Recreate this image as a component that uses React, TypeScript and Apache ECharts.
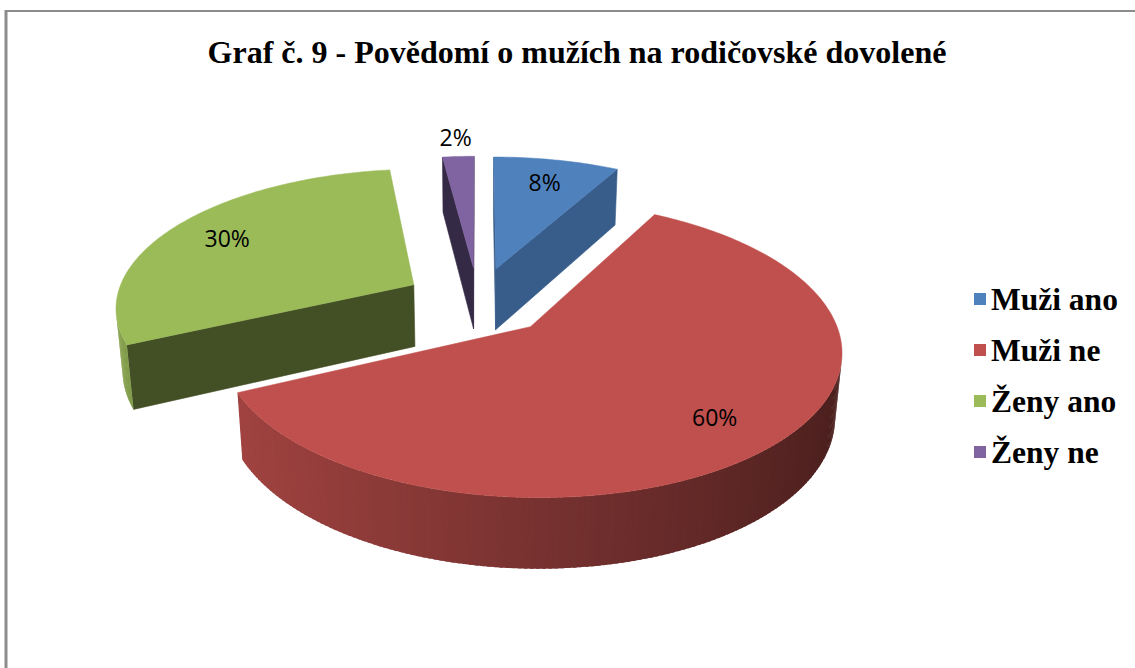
import React, { useEffect, useRef } from 'react';
import * as echarts from 'echarts';

// ---- data ----
const categories = ['Muži ano', 'Muži ne', 'Ženy ano', 'Ženy ne'];
const values = [8, 60, 30, 2];
const labelTexts = ['8%', '60%', '30%', '2%'];
const titleText = 'Graf č. 9 - Povědomí o mužích na rodičovské dovolené';

// ---- styles ----
const topColors = ['#4f81bd', '#c0504d', '#9bbb59', '#8064a2'];
const cutColors = ['#385d8a', '#5a2424', '#434f25', '#352a45'];

// ---- 3D view parameters (layout) ----
const CX = 478;
const CY = 301;
const FOCAL = 1790;
const DIST = 6;
const SIN = 0.46;
const COS = Math.sqrt(1 - SIN * SIN);
const EXPLODE = 0.25;
const HEIGHT = 0.24;

function project(X: number, Yh: number, Z: number): number[] {
  const up = Yh * COS + Z * SIN;
  const dep = DIST + Z * COS - Yh * SIN;
  return [CX + (FOCAL * X) / dep, CY - (FOCAL * up) / dep];
}

function shade(hex: string, f: number): string {
  const n = parseInt(hex.slice(1), 16);
  const r = Math.min(255, Math.round(((n >> 16) & 255) * f));
  const g = Math.min(255, Math.round(((n >> 8) & 255) * f));
  const b = Math.min(255, Math.round((n & 255) * f));
  return `rgb(${r},${g},${b})`;
}

const total = values.reduce((a, b) => a + b, 0);
const starts: number[] = [];
{
  let acc = 0;
  values.forEach((v) => {
    starts.push(acc);
    acc += v;
  });
}

function sliceGeom(i: number, v: number) {
  const a0 = (starts[i] / total) * Math.PI * 2;
  const a1 = a0 + (v / total) * Math.PI * 2;
  const mid = (a0 + a1) / 2;
  const ox = EXPLODE * Math.sin(mid);
  const oz = EXPLODE * Math.cos(mid);
  return { a0, a1, mid, ox, oz };
}

// painter's order: far slices first
const orderRank: number[] = (() => {
  const depths = values.map((v, i) => {
    const g = sliceGeom(i, v);
    return g.oz + 0.5 * Math.cos(g.mid);
  });
  const idx = values.map((_, i) => i).sort((a, b) => depths[b] - depths[a]);
  const rank: number[] = [];
  idx.forEach((k, r) => (rank[k] = r));
  return rank;
})();

function renderItem(params: any, api: any) {
  const i = params.dataIndex;
  const v = api.value(0);
  const { a0, a1, mid, ox, oz } = sliceGeom(i, v);
  const base = orderRank[i] * 10;
  const children: any[] = [];
  const camZ = -DIST * COS;

  const rim = (t: number, yh: number) => project(ox + Math.sin(t), yh, oz + Math.cos(t));
  const vtx = (yh: number) => project(ox, yh, oz);

  // cut faces
  const cutFace = (a: number, nx: number, nz: number) => {
    const vis = nx * -ox + nz * (camZ - oz) > 0;
    if (!vis) return;
    children.push({
      type: 'polygon',
      z2: base,
      shape: { points: [vtx(0), rim(a, 0), rim(a, -HEIGHT), vtx(-HEIGHT)] },
      style: { fill: cutColors[i], stroke: cutColors[i], lineWidth: 0.6 },
    });
  };
  cutFace(a0, -Math.cos(a0), Math.sin(a0));
  cutFace(a1, Math.cos(a1), -Math.sin(a1));

  // outer wall
  const step = Math.PI / 180;
  const n = Math.max(2, Math.ceil((a1 - a0) / step));
  const dt = (a1 - a0) / n;
  for (let k = 0; k < n; k++) {
    const t0 = a0 + dt * k;
    const t1 = Math.min(a1, t0 + dt * 1.6);
    const tm = t0 + dt / 2;
    const px = ox + Math.sin(tm);
    const pz = oz + Math.cos(tm);
    const vis = Math.sin(tm) * -px + Math.cos(tm) * (camZ - pz) > 0;
    if (!vis) continue;
    const col = shade(topColors[i], 0.62 - 0.24 * Math.sin(tm));
    children.push({
      type: 'polygon',
      z2: base,
      shape: { points: [rim(t0, 0), rim(t1, 0), rim(t1, -HEIGHT), rim(t0, -HEIGHT)] },
      style: { fill: col },
    });
  }

  // top face
  const pts: number[][] = [vtx(0)];
  for (let k = 0; k <= n; k++) {
    pts.push(rim(a0 + dt * k, 0));
  }
  children.push({
    type: 'polygon',
    z2: base + 1,
    shape: { points: pts },
    style: { fill: topColors[i], stroke: topColors[i], lineWidth: 0.5 },
  });

  // label
  const r = v / total < 0.05 ? 1.2 : 0.78;
  const lp = project(ox + r * Math.sin(mid), 0, oz + r * Math.cos(mid));
  children.push({
    type: 'text',
    z2: 1000,
    x: lp[0],
    y: lp[1],
    style: {
      text: labelTexts[i],
      fill: '#000',
      font: '23px "Open Sans"',
      align: 'center',
      verticalAlign: 'middle',
    },
  });

  return { type: 'group', children };
}

export default function App() {
  const ref = useRef<HTMLDivElement>(null);
  useEffect(() => {
    if (!ref.current) return;
    const chart = echarts.init(ref.current, null, { renderer: 'svg' });
    chart.setOption({
      animation: false,
      backgroundColor: '#ffffff',
      color: topColors,
      legend: {
        orient: 'vertical',
        left: 969,
        top: 278,
        itemWidth: 12,
        itemHeight: 12,
        itemGap: 19,
        icon: 'rect',
        selectedMode: false,
        data: categories,
        textStyle: {
          fontFamily: 'Liberation Serif',
          fontWeight: 'bold',
          fontSize: 31.5,
          lineHeight: 30,
          color: '#000',
        },
      },
      graphic: [
        {
          type: 'line',
          shape: { x1: 5, y1: 11, x2: 1135, y2: 11 },
          style: { stroke: '#8c8c8c', lineWidth: 2 },
        },
        {
          type: 'line',
          shape: { x1: 6, y1: 10, x2: 6, y2: 668 },
          style: { stroke: '#8c8c8c', lineWidth: 3 },
        },
        {
          type: 'text',
          x: 577,
          y: 52,
          style: {
            text: titleText,
            font: 'bold 32px "Liberation Serif"',
            fill: '#000',
            align: 'center',
            verticalAlign: 'middle',
          },
        },
      ],
      series: [
        {
          type: 'pie',
          radius: [0, 0],
          center: [-100, -100],
          silent: true,
          label: { show: false },
          labelLine: { show: false },
          data: categories.map((c, i) => ({ name: c, value: values[i] })),
        },
        {
          type: 'custom',
          coordinateSystem: 'none',
          renderItem,
          silent: true,
          data: values.map((v, i) => ({ name: categories[i], value: [v] })),
        },
      ],
    });
    return () => chart.dispose();
  }, []);
  return (
    <div
      ref={ref}
      style={{ position: 'fixed', left: 0, top: 0, width: 1135, height: 668 }}
    />
  );
}
